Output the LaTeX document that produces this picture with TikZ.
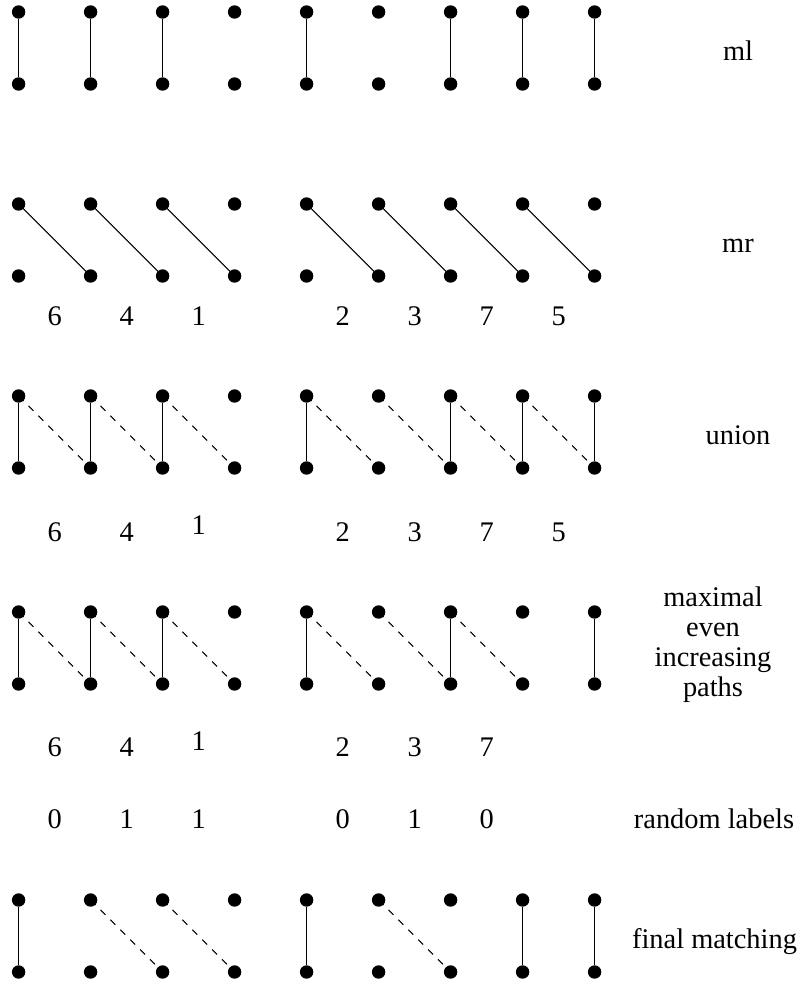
\documentclass[tikz,border=0pt]{standalone}
\usepackage{fontspec}
\setmainfont{Liberation Serif}

\begin{document}
\begin{tikzpicture}[x=0.5pt, y=-0.5pt,
  every node/.style={font=\fontsize{14.2}{15}\selectfont},
  pt/.style={circle, fill, inner sep=0pt, minimum size=6.7pt},
  mline/.style={line width=0.5pt},
  dline/.style={line width=0.5pt, dash pattern=on 3.5pt off 3.5pt},
  lbl/.style={anchor=base, inner sep=0pt}]
  \useasboundingbox (0,0) rectangle (800,985);

  % Vertices: two layers per row
  \foreach \row/\y in {ml/12, mr/204, un/396, mx/612, fm/900} {
    \foreach \i in {0,...,8} {
      \node[pt] (\row t\i) at (18.6+72*\i, \y) {};
      \node[pt] (\row b\i) at (18.6+72*\i, \y+72) {};
    }
  }

  % ml
  \foreach \i in {0,1,2,4,6,7,8}
    \draw[mline] (mlt\i) -- (mlb\i);

  % mr
  \foreach \i/\j in {0/1,1/2,2/3,4/5,5/6,6/7,7/8}
    \draw[mline] (mrt\i.center) -- (mrb\j.center);
  \foreach \i/\n in {0/6,1/4,2/1,4/2,5/3,6/7,7/5}
    \node[lbl] (mrn\i) at (54.6+72*\i, 325) {\n};

  % union
  \foreach \i in {0,1,2,4,6,7,8}
    \draw[mline] (unt\i) -- (unb\i);
  \foreach \i/\j in {0/1,1/2,2/3,4/5,5/6,6/7,7/8}
    \draw[dline] (unt\i.center) -- (unb\j.center);
  \foreach \i/\n/\y in {0/6/541,1/4/541,2/1/534,4/2/541,5/3/541,6/7/541,7/5/541}
    \node[lbl] (unn\i) at (54.6+72*\i, \y) {\n};

  % maximal even increasing paths
  \foreach \i in {0,1,2,4,6,8}
    \draw[mline] (mxt\i) -- (mxb\i);
  \foreach \i/\j in {0/1,1/2,2/3,4/5,5/6,6/7}
    \draw[dline] (mxt\i.center) -- (mxb\j.center);
  \foreach \i/\n/\y in {0/6/756,1/4/756,2/1/750,4/2/756,5/3/756,6/7/756}
    \node[lbl] (mxn\i) at (54.6+72*\i, \y) {\n};

  % random labels
  \foreach \i/\n in {0/0,1/1,2/1,4/0,5/1,6/0}
    \node[lbl] (rnd\i) at (54.6+72*\i, 828) {\n};

  % final matching
  \foreach \i in {0,4,7,8}
    \draw[mline] (fmt\i) -- (fmb\i);
  \foreach \i/\j in {1/2,2/3,5/6}
    \draw[dline] (fmt\i.center) -- (fmb\j.center);

  % Row captions
  \node[lbl] (mltxt) at (738, 61) {ml};
  \node[lbl] (mrtxt) at (738, 252) {mr};
  \node[lbl] (untxt) at (738, 444) {union};
  \node[align=center, inner sep=0pt] (mxtxt) at (713, 644.4)
    {maximal\\even\\increasing\\paths};
  \node[lbl] (rndtxt) at (714, 828) {random labels};
  \node[lbl] (fmtxt) at (714.5, 948) {final matching};
\end{tikzpicture}
\end{document}
